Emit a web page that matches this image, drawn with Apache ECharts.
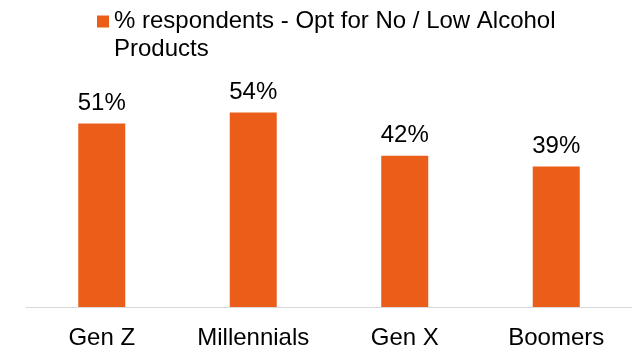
<!DOCTYPE html>
<html>
<head>
<meta charset="utf-8">
<script src="https://cdn.jsdelivr.net/npm/echarts@6/dist/echarts.min.js"></script>
<style>html,body{margin:0;padding:0;background:#fff}#c{width:638px;height:350px}</style>
</head>
<body>
<div id="c"></div>
<script>
const categories = ['Gen Z', 'Millennials', 'Gen X', 'Boomers'];
const values = [51, 54, 42, 39];
const seriesName = '% respondents - Opt for No / Low Alcohol Products';

const chart = echarts.init(document.getElementById('c'), null, {renderer: 'canvas'});
const font = 'Liberation Sans, Arial, sans-serif';
chart.setOption({
  animation: false,
  legend: {
    left: 97, top: -20.5, padding: 0,
    itemWidth: 12, itemHeight: 12,
    icon: 'rect',
    formatter: function (name) { return '\n' + name; },
    textStyle: {
      fontFamily: font, fontSize: 24, color: '#000',
      width: 470, overflow: 'break', lineHeight: 28
    }
  },
  grid: {left: 26, right: 6, top: 91, bottom: 41},
  xAxis: {
    type: 'category', data: categories,
    axisLine: {lineStyle: {color: '#d9d9d9', width: 1}},
    axisTick: {show: false},
    axisLabel: {fontFamily: font, fontSize: 24, color: '#000', margin: 19}
  },
  yAxis: {
    type: 'value', min: 0, max: 60, show: false,
    splitLine: {show: false}
  },
  series: [{
    name: seriesName, type: 'bar', data: values, barWidth: 47,
    itemStyle: {color: '#EB5E1A'},
    label: {show: true, position: 'top', distance: 8, formatter: '{c}%',
      fontFamily: font, fontSize: 24, color: '#000'}
  }]
});
</script>
</body>
</html>
